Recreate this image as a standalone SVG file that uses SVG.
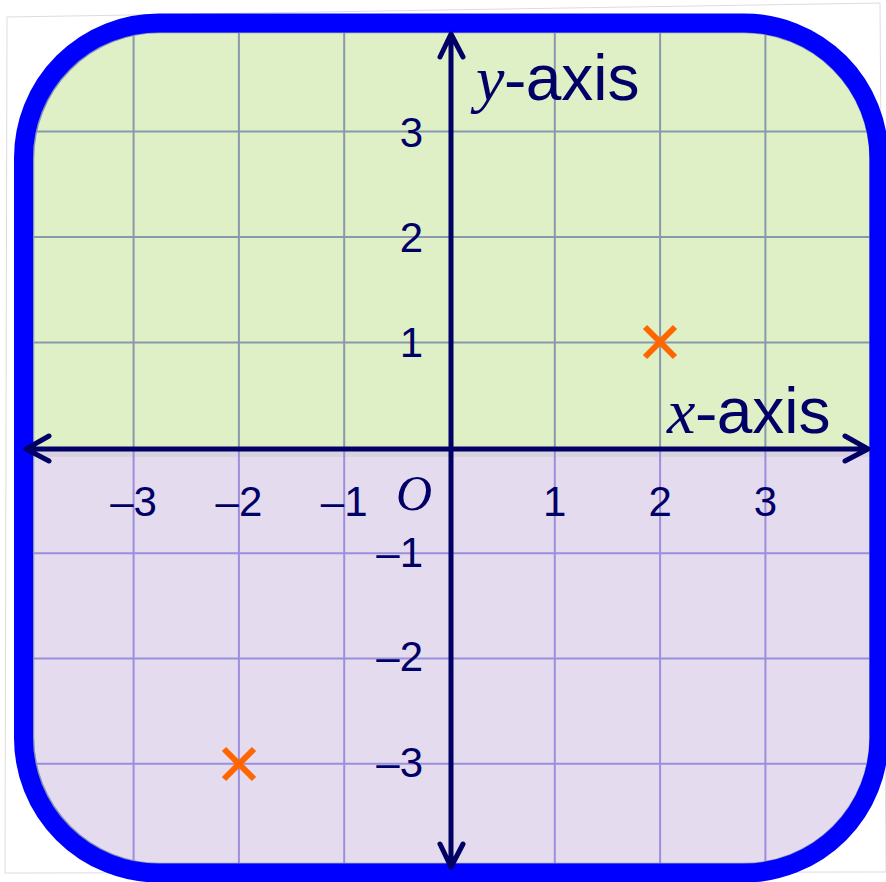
<svg xmlns="http://www.w3.org/2000/svg" width="886" height="882" viewBox="0 0 886 882">
<style>
.gt{stroke:#8898ad;stroke-width:2;fill:none}
.gb{stroke:#9a8fdc;stroke-width:2;fill:none}
.ax{stroke:#000066;stroke-width:5;fill:none;stroke-linecap:round;stroke-linejoin:round}
.tk{font-family:"Liberation Sans",Arial,sans-serif;font-size:42px;fill:#000066}
.lab{font-size:64px;fill:#000066}
.it{font-family:"Liberation Serif","Times New Roman",serif;font-style:italic}
.sa{font-family:"Liberation Sans",Arial,sans-serif}
.pt{stroke:#ff6600;stroke-width:6;fill:none}
</style>
<defs>
<clipPath id="clip"><rect x="23.5" y="23" width="855.5" height="850" rx="135" ry="135"/></clipPath>
</defs>
<rect width="886" height="882" fill="#ffffff"/>
<polygon points="7,17 880,3 886,872 5,873" fill="#ffffff" stroke="#dcdcdc" stroke-width="1"/>
<g id="background" clip-path="url(#clip)">
<rect x="0" y="0" width="886" height="449" fill="#dff0c7"/>
<rect x="0" y="449" width="886" height="433" fill="#e5dbee"/>
<rect x="0" y="449" width="886" height="8" fill="#d9d3df"/>
<g id="grid">
<path class="gt" d="M133.6 0V449M238.9 0V449M344.2 0V449M554.8 0V449M660.1 0V449M765.4 0V449M0 131.5H886M0 237H886M0 342.5H886"/>
<path class="gb" d="M133.6 449V882M238.9 449V882M344.2 449V882M554.8 449V882M660.1 449V882M765.4 449V882M0 553.3H886M0 658.5H886M0 763.8H886"/>
</g>
</g>
<rect id="inner-edge" x="33.5" y="32.5" width="836.5" height="831" rx="126" ry="126" fill="none" stroke="#8595b0" stroke-width="1.5"/>
<rect id="border" x="23.5" y="23" width="855.5" height="850" rx="135" ry="135" fill="none" stroke="#0000ff" stroke-width="19"/>
<g id="axes">
<path class="ax" d="M26 449H868M49 436L26 449L49 461M845 436L868 449L845 461"/>
<path class="ax" d="M451 34V867M440 57L451 34L463 57M440 844L451 867L463 844"/>
</g>
<g id="labels">
<text class="lab" x="667" y="433"><tspan class="it">x-</tspan><tspan class="sa">axis</tspan></text>
<text class="lab" x="476" y="100"><tspan class="it">y-</tspan><tspan class="sa">axis</tspan></text>
<text x="396" y="510" font-family="Liberation Serif,Times New Roman,serif" font-style="italic" font-size="50" fill="#000066">O</text>
<g class="tk" text-anchor="middle">
<text x="133.6" y="516">–3</text>
<text x="238.9" y="516">–2</text>
<text x="344.2" y="516">–1</text>
<text x="554.8" y="516">1</text>
<text x="660.1" y="516">2</text>
<text x="765.4" y="516">3</text>
</g>
<g class="tk" text-anchor="end">
<text x="423" y="147">3</text>
<text x="423" y="252">2</text>
<text x="423" y="357">1</text>
<text x="423" y="567">–1</text>
<text x="423" y="671">–2</text>
<text x="423" y="777">–3</text>
</g>
</g>
<g id="points">
<path class="pt" d="M645 327L675 357M675 327L645 357"/>
<path class="pt" d="M224 749L254 779M254 749L224 779"/>
</g>
</svg>
